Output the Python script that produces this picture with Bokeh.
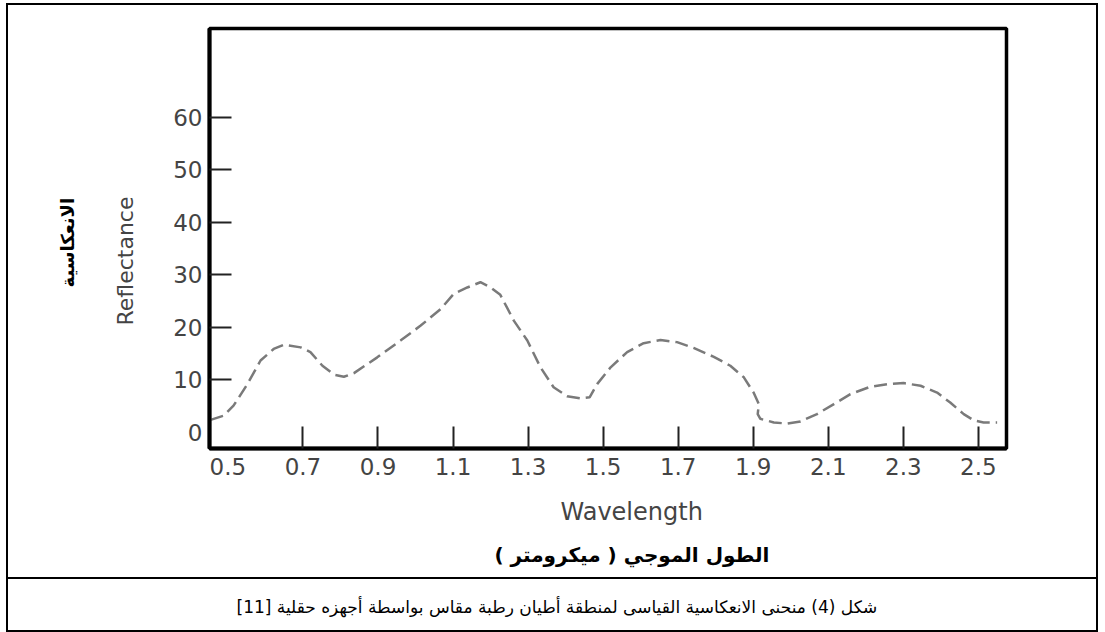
import math
from bokeh.plotting import figure
from bokeh.layouts import column
from bokeh.models import Range1d, LinearAxis, FixedTicker, Title
from bokeh.embed import file_html
from bokeh.resources import INLINE

# ---- data ----
wavelength = [0.454, 0.489, 0.515, 0.552, 0.587, 0.622, 0.649, 0.694, 0.720, 0.752,
              0.783, 0.809, 0.836, 0.898, 0.960, 1.013, 1.067, 1.102, 1.138, 1.173,
              1.200, 1.226, 1.262, 1.298, 1.333, 1.368, 1.404, 1.440, 1.464, 1.484,
              1.520, 1.564, 1.608, 1.653, 1.697, 1.741, 1.795, 1.839, 1.875, 1.901,
              1.915, 1.912, 1.919, 1.955, 1.990, 2.026, 2.070, 2.115, 2.159, 2.212,
              2.257, 2.301, 2.346, 2.390, 2.425, 2.461, 2.488, 2.514, 2.550]
reflectance = [2.4, 3.2, 5.1, 9.2, 13.7, 15.9, 16.7, 16.2, 15.3, 12.7,
               11.0, 10.6, 11.3, 14.3, 17.5, 20.3, 23.5, 26.4, 27.6, 28.6,
               27.6, 26.2, 21.3, 17.5, 12.4, 8.6, 6.9, 6.5, 6.7, 9.2,
               12.4, 15.3, 17.0, 17.6, 17.2, 16.1, 14.4, 12.7, 10.5, 7.6,
               5.4, 3.5, 2.6, 1.9, 1.7, 2.1, 3.5, 5.4, 7.3, 8.7,
               9.2, 9.4, 8.9, 7.6, 5.7, 3.5, 2.3, 1.9, 1.9]

x_tick_marks = [0.7, 0.9, 1.1, 1.3, 1.5, 1.7, 1.9, 2.1, 2.3, 2.5]
x_tick_labels = [0.5, 0.7, 0.9, 1.1, 1.3, 1.5, 1.7, 1.9, 2.1, 2.3, 2.5]
y_tick_marks = [10, 20, 30, 40, 50, 60]
y_tick_labels = [0, 10, 20, 30, 40, 50, 60]

x_title = "Wavelength"
x_title_ar = "الطول الموجي ( ميكرومتر )"
y_title = "Reflectance"
y_title_ar = "الانعكاسية"
caption = "شكل (4) منحنى الانعكاسية القياسى لمنطقة أطيان رطبة مقاس بواسطة أجهزه حقلية [11]"

FONT = "DejaVu Sans"
TICK_COLOR = "#444444"
BORDER = "2px solid black"

p = figure(width=1092, height=576, output_backend="svg", toolbar_location=None,
           x_range=Range1d(0.451, 2.575), y_range=Range1d(-3.05, 76.9),
           x_axis_location=None, y_axis_location=None,
           min_border_left=201, min_border_right=94,
           min_border_top=23, min_border_bottom=133,
           styles={"border-top": BORDER, "border-left": BORDER,
                   "border-right": BORDER, "border-bottom": BORDER})
p.background_fill_color = "white"
p.border_fill_color = "white"
p.outline_line_color = "black"
p.outline_line_width = 3.5
p.outline_line_alpha = 1.0
p.xgrid.grid_line_color = None
p.ygrid.grid_line_color = None


def tick_axis(ticks):
    return LinearAxis(ticker=FixedTicker(ticks=ticks), major_tick_in=22, major_tick_out=0,
                      minor_tick_line_color=None, major_label_text_font_size="0px",
                      major_label_standoff=0, axis_line_width=4, axis_line_color="black",
                      major_tick_line_width=2, major_tick_line_color="#222222")


def label_axis(ticks, standoff):
    return LinearAxis(ticker=FixedTicker(ticks=ticks), major_tick_in=0, major_tick_out=0,
                      major_tick_line_color=None, minor_tick_line_color=None,
                      axis_line_color=None, major_label_text_font=FONT,
                      major_label_text_font_size="23px", major_label_text_color=TICK_COLOR,
                      major_label_standoff=standoff)


p.add_layout(tick_axis(x_tick_marks), "below")
p.add_layout(label_axis(x_tick_labels, 9), "below")
p.add_layout(tick_axis(y_tick_marks), "left")
p.add_layout(label_axis(y_tick_labels, 7), "left")

p.add_layout(Title(text=x_title, align="left", offset=351, standoff=37,
                   text_font=FONT, text_font_size="24px", text_font_style="normal",
                   text_color=TICK_COLOR), "below")
p.add_layout(Title(text=x_title_ar, align="left", offset=285, standoff=-7,
                   text_font=FONT, text_font_size="20px", text_font_style="bold",
                   text_color="black"), "below")
p.add_layout(Title(text=y_title, align="left", offset=123, standoff=65,
                   text_font=FONT, text_font_size="22px", text_font_style="normal",
                   text_color=TICK_COLOR), "left")
p.add_layout(Title(text=y_title_ar, align="left", offset=161, standoff=1,
                   text_font=FONT, text_font_size="18px", text_font_style="bold",
                   text_color="black"), "left")

p.line(x=wavelength, y=reflectance, line_color="#7a7a7a", line_width=2.5, line_dash="13 6")

# caption box
cap = figure(width=1092, height=53, output_backend="svg", toolbar_location=None,
             x_range=Range1d(0, 1), y_range=Range1d(0, 1),
             x_axis_location=None, y_axis_location=None,
             min_border_top=40, min_border_bottom=0,
             styles={"border-left": BORDER, "border-right": BORDER,
                     "border-bottom": BORDER})
cap.outline_line_color = None
cap.xgrid.grid_line_color = None
cap.ygrid.grid_line_color = None
cap.border_fill_color = "white"
cap.add_layout(Title(text=caption, align="left", offset=27, standoff=5,
                     text_font=FONT, text_font_size="17px", text_font_style="normal",
                     text_color="black"), "above")

layout = column(p, cap, spacing=0, margin=(3, 0, 0, 6))
open("out.html", "w").write(file_html(layout, INLINE))
